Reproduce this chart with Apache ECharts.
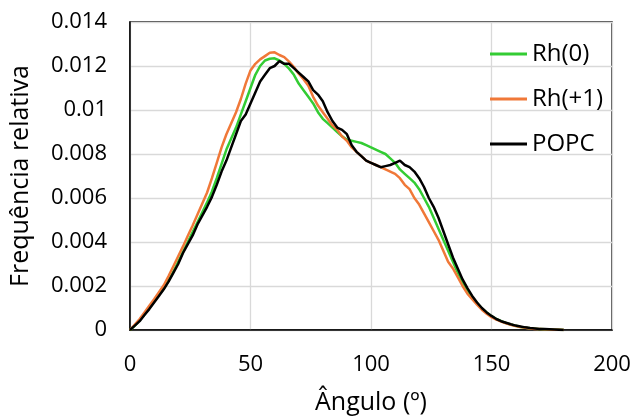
<!DOCTYPE html>
<html>
<head>
<meta charset="utf-8">
<script src="https://cdn.jsdelivr.net/npm/echarts@6/dist/echarts.min.js"></script>
<style>html,body{margin:0;padding:0;background:#fff;}#c{width:636px;height:416px;}</style>
</head>
<body>
<div id="c"></div>
<script>
var angles = [0,2,4,6,8,10,12,14,16,18,20,22,24,26,28,30,32,34,36,38,40,42,44,46,48,50,52,54,56,58,60,62,64,66,68,70,72,74,76,78,80,82,84,86,88,90,92,94,96,98,100,102,104,106,108,110,112,114,116,118,120,122,124,126,128,130,132,134,136,138,140,142,144,146,148,150,152,154,156,158,160,162,164,166,168,170,172,174,176,178,180];

var rh0 = [0,0.0002,0.00045,0.0007,0.001,0.0013,0.0016,0.00188,0.00225,0.00265,0.0031,0.00355,0.004,0.00445,0.0049,0.00535,0.0058,0.0063,0.0069,0.00755,0.0082,0.0087,0.0092,0.0098,0.0104,0.011,0.0116,0.012,0.01225,0.01233,0.01235,0.01225,0.0121,0.01188,0.0116,0.0112,0.0109,0.0106,0.0103,0.0099,0.0096,0.0094,0.0092,0.009,0.0088,0.00865,0.0086,0.00855,0.0085,0.0084,0.0083,0.0082,0.0081,0.008,0.0078,0.0076,0.0073,0.0071,0.0069,0.0067,0.0064,0.006,0.0056,0.0051,0.0046,0.0041,0.0036,0.0031,0.0026,0.0022,0.00178,0.00148,0.00122,0.00098,0.0008,0.00063,0.0005,0.0004,0.00032,0.00025,0.00019,0.00014,0.0001,0.00008,0.00006,0.00004,0.00003,0.00002,0.00001,0.00001,0];

var rh1 = [0,0.00025,0.0005,0.0008,0.0011,0.0014,0.00172,0.00203,0.00245,0.0029,0.00335,0.0038,0.00428,0.00475,0.00525,0.00575,0.00625,0.0069,0.0076,0.0083,0.0089,0.0094,0.0099,0.0105,0.0112,0.0118,0.0121,0.0123,0.01245,0.0126,0.01262,0.0125,0.0124,0.0122,0.01195,0.01165,0.0114,0.0111,0.0106,0.0102,0.0099,0.0096,0.0093,0.0091,0.0088,0.0086,0.0083,0.0081,0.0079,0.0077,0.0076,0.0075,0.0074,0.0073,0.0072,0.0071,0.0069,0.0066,0.0064,0.006,0.0057,0.0053,0.0049,0.0045,0.0041,0.0036,0.0031,0.0028,0.0024,0.002,0.00165,0.0014,0.00115,0.00092,0.00074,0.00058,0.00047,0.00038,0.0003,0.00024,0.00018,0.00014,0.0001,0.00007,0.00005,0.00004,0.00003,0.00002,0.00001,0.00001,0];

var popc = [0,0.0002,0.0004,0.00068,0.00095,0.00125,0.00155,0.00185,0.0022,0.0026,0.003,0.0035,0.0039,0.0043,0.0048,0.0052,0.0056,0.00605,0.0066,0.0072,0.0077,0.0083,0.0089,0.0095,0.0098,0.0103,0.0108,0.0113,0.0116,0.0119,0.012,0.01222,0.0121,0.0121,0.0119,0.0117,0.0115,0.0113,0.0109,0.0107,0.0104,0.0099,0.0095,0.0092,0.0091,0.0089,0.0084,0.0081,0.0079,0.0077,0.0076,0.0075,0.0074,0.00745,0.0075,0.0076,0.0077,0.0075,0.0074,0.0072,0.0069,0.0065,0.006,0.0056,0.0051,0.0045,0.0039,0.0033,0.0028,0.0023,0.0019,0.00155,0.00125,0.001,0.0008,0.00064,0.0005,0.0004,0.00033,0.00026,0.0002,0.00016,0.00012,0.00009,0.00007,0.00005,0.00004,0.00003,0.00002,0.00001,0];

var seriesNames = ['Rh(0)', 'Rh(+1)', 'POPC'];
var seriesColors = ['#33cc33', '#f07838', '#000000'];
var xTitle = 'Ângulo (º)';
var yTitle = 'Frequência relativa';

function pairs(v) { return angles.map(function (a, i) { return [a, v[i]]; }); }
var values = [rh0, rh1, popc];

var font = '"Open Sans", "Noto Sans", sans-serif';
var chart = echarts.init(document.getElementById('c'), null, { renderer: 'canvas' });
chart.setOption({
  animation: false,
  backgroundColor: '#ffffff',
  grid: { left: 130, top: 22, right: 24, bottom: 86, containLabel: false, outerBoundsMode: 'none',
    show: true, borderColor: '#000', borderWidth: 1.3, backgroundColor: 'transparent' },
  legend: {
    orient: 'vertical', left: 490, top: 42, padding: 0,
    itemWidth: 37, itemHeight: 3, itemGap: 21,
    icon: 'rect',
    data: seriesNames,
    textStyle: { fontFamily: font, fontSize: 24, color: '#000', lineHeight: 24, padding: [0,0,0,0] }
  },
  xAxis: {
    type: 'value', min: 0, max: 200, interval: 50,
    name: xTitle, nameLocation: 'middle', nameGap: 60,
    nameTextStyle: { fontFamily: font, fontSize: 25, color: '#000' },
    axisLine: { show: true, lineStyle: { color: '#000', width: 1.5 } },
    axisTick: { show: false },
    axisLabel: { fontFamily: font, fontSize: 22, color: '#000', margin: 24 },
    splitLine: { show: true, lineStyle: { color: '#d9d9d9', width: 1.3 } }
  },
  yAxis: {
    type: 'value', min: 0, max: 0.014, interval: 0.002,
    name: yTitle, nameLocation: 'middle', nameGap: 97, nameRotate: 90,
    nameTextStyle: { fontFamily: font, fontSize: 25, color: '#000' },
    axisLine: { show: true, lineStyle: { color: '#000', width: 1.5 } },
    axisTick: { show: false },
    axisLabel: { fontFamily: font, fontSize: 22, color: '#000', margin: 23,
      formatter: function (v) { return v === 0 ? '0' : String(parseFloat(v.toFixed(3))); } },
    splitLine: { show: true, lineStyle: { color: '#d9d9d9', width: 1.3 } }
  },
  series: seriesNames.map(function (n, i) {
    return {
      name: n, type: 'line', data: pairs(values[i]),
      showSymbol: false, symbol: 'none',
      lineStyle: { color: seriesColors[i], width: 2.5 },
      itemStyle: { color: seriesColors[i] },
      z: 2 + i
    };
  })
});
</script>
</body>
</html>
